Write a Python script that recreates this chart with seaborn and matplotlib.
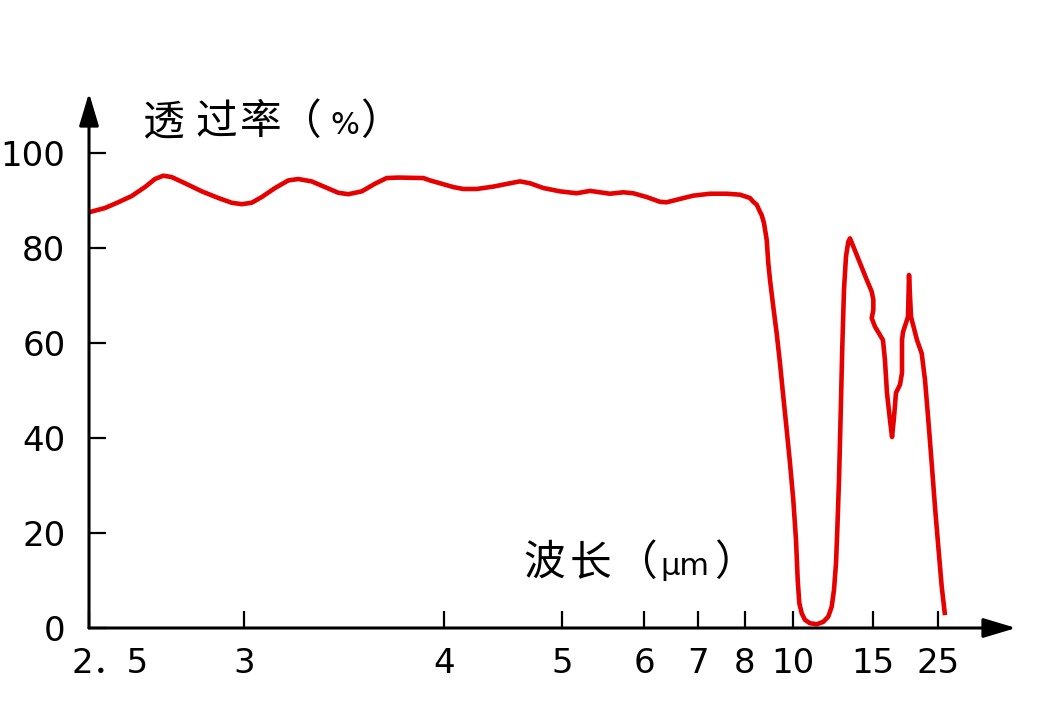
import numpy as np
import pandas as pd
import matplotlib
matplotlib.use("Agg")
import matplotlib.pyplot as plt
import matplotlib.transforms as mtransforms
import seaborn as sns

# ---------------- data ----------------
wavelength_um = [2.500, 2.544, 2.581, 2.620, 2.660, 2.691, 2.717, 2.744, 2.788, 2.845,
                 2.904, 2.953, 2.991, 3.029, 3.068, 3.121, 3.176, 3.218, 3.277, 3.338,
                 3.401, 3.450, 3.518, 3.587, 3.651, 3.717, 3.867, 3.909, 3.974, 4.064,
                 4.135, 4.235, 4.365, 4.504, 4.591, 4.683, 4.810, 4.979, 5.154, 5.302,
                 5.419, 5.540, 5.712, 5.847, 6.043, 6.265, 6.383, 6.631, 6.900, 7.231,
                 7.579, 7.880, 8.170, 8.286, 8.410, 8.533, 8.599, 8.688, 8.795, 8.860,
                 8.930, 9.069, 9.217, 9.366, 9.519, 9.682, 9.846, 10.013, 10.127, 10.200,
                 10.270, 10.377, 10.526, 10.762, 11.096, 11.446, 11.725, 11.923, 12.060, 12.183,
                 12.264, 12.372, 12.481, 12.585, 12.698, 12.834, 12.994, 13.115, 13.357, 13.873,
                 14.432, 14.879, 15.03, 15.03, 14.879, 15.19, 15.98, 16.19, 16.41, 16.75,
                 16.99, 17.23, 17.47, 17.99, 18.26, 18.26, 18.40, 19.12, 19.27, 19.58,
                 20.57, 21.42, 22.06, 22.74, 23.48, 24.25, 25.08, 25.99, 26.93]
transmittance = [87.5, 88.4, 89.6, 90.9, 92.8, 94.5, 95.2, 94.9, 93.6, 91.9,
                 90.5, 89.5, 89.2, 89.5, 90.7, 92.6, 94.2, 94.5, 94.0, 92.8,
                 91.6, 91.3, 91.9, 93.5, 94.7, 94.8, 94.7, 94.2, 93.6, 92.8,
                 92.4, 92.4, 92.9, 93.6, 94.0, 93.6, 92.6, 91.9, 91.5, 92.0,
                 91.7, 91.4, 91.7, 91.5, 90.7, 89.7, 89.6, 90.3, 91.0, 91.4,
                 91.4, 91.2, 90.5, 89.7, 89.1, 87.6, 86.9, 85.2, 81.7, 76.8,
                 73.3, 67.6, 62.0, 55.7, 48.7, 41.7, 34.7, 26.9, 18.5, 10.1,
                 5.2, 3.1, 1.7, 1.0, 0.8, 1.3, 2.4, 4.5, 8.0, 13.6,
                 20.6, 31.2, 45.2, 59.2, 71.2, 78.2, 81.3, 82.0, 80.3, 76.8,
                 73.3, 70.8, 69.1, 66.9, 65.2, 63.4, 60.6, 56.4, 49.5, 43.8,
                 40.2, 44.4, 49.5, 51.2, 53.7, 60.6, 62.3, 65.5, 74.3, 65.5,
                 60.6, 57.8, 52.2, 43.8, 34.7, 25.5, 17.1, 8.7, 2.7]

x_ticks = [2.5, 3, 4, 5, 6, 7, 8, 10, 15, 25]
x_tick_labels = ["2．5", "3", "4", "5", "6", "7", "8", "10", "15", "25"]
y_ticks = [0, 20, 40, 60, 80, 100]
y_tick_labels = ["0", "20", "40", "60", "80", "100"]

# axis titles, split into pieces (CJK text / small latin part)
y_title_pieces = ["透", "过", "率", "（", "%", "）"]
x_title_pieces = ["波", "长", "（", "μm", "）"]

# hand-drawn axis: piecewise linear in wavenumber, anchored on the tick marks
_anchor_nu = np.array([1e4 / t for t in x_ticks] + [0.0])
_anchor_pos = np.array([89, 244, 444, 562, 644, 698, 745, 793, 873, 938, 1035.5])


def fwd(lam):
    lam = np.asarray(lam, dtype=float)
    with np.errstate(divide="ignore", invalid="ignore"):
        nu = np.where(lam > 0, 1e4 / np.where(lam > 0, lam, 1.0), 1e9)
    return np.interp(-nu, -_anchor_nu, _anchor_pos)


def inv(pos):
    pos = np.asarray(pos, dtype=float)
    nu = -np.interp(pos, _anchor_pos, -_anchor_nu)
    nu = np.clip(nu, 1e-3, None)
    return 1e4 / nu


df = pd.DataFrame({"wavelength": wavelength_um, "T": transmittance})

sns.set_style("white")
plt.rcParams["font.family"] = ["DejaVu Sans", "Noto Sans CJK SC"]

W, H = 1043, 704
fig = plt.figure(figsize=(W / 100, H / 100), dpi=100)
ax = fig.add_axes([89 / W, (H - 628) / H, (1016 - 89) / W, (628 - 93) / H])
ax.set_xscale("function", functions=(fwd, inv))

sns.lineplot(data=df, x="wavelength", y="T", sort=False, estimator=None,
             color="#e60000", linewidth=3.3, ax=ax, clip_on=False)
for ln in ax.get_lines():
    ln.set_solid_joinstyle("round")
    ln.set_solid_capstyle("butt")

ax.set_xlim(2.5, float(inv(1016)))
ax.set_ylim(0, 112.6)

for s in ax.spines.values():
    s.set_visible(False)

ax.set_xticks(x_ticks)
ax.set_xticklabels(x_tick_labels)
ax.set_yticks(y_ticks)
ax.set_yticklabels(y_tick_labels)
ax.xaxis.set_minor_locator(matplotlib.ticker.NullLocator())
ax.tick_params(axis="both", direction="in", length=12.5, width=1.6, color="black",
               labelsize=24.5, labelcolor="black")
ax.tick_params(axis="x", pad=13.5, bottom=True)
ax.tick_params(axis="y", pad=17, left=True)
ax.set_xlabel("")
ax.set_ylabel("")
ax.grid(False)

# shift the first x label to the right as in the reference
lbl0 = ax.get_xticklabels()[0]
lbl0.set_transform(lbl0.get_transform() + mtransforms.ScaledTranslation(0.21, 0, fig.dpi_scale_trans))

arrow_kw = dict(arrowstyle="-|>,head_length=1.0,head_width=0.3", color="black",
                lw=2.2, shrinkA=0, shrinkB=0, mutation_scale=20)
ax.annotate("", xy=(1, 0), xytext=(0, 0), xycoords="axes fraction",
            textcoords="axes fraction", arrowprops=arrow_kw, annotation_clip=False)
ax.annotate("", xy=(0, 1), xytext=(0, 0), xycoords="axes fraction",
            textcoords="axes fraction", arrowprops=arrow_kw, annotation_clip=False)

# axis titles (piece-wise so the spacing matches)
cjk = ["Noto Sans CJK SC", "DejaVu Sans"]
latin = ["DejaVu Sans", "Noto Sans CJK SC"]
y_title_x = [142, 195, 240, 279, 330, 360]
y_title_fs = [30, 30, 30, 30, 22, 30]
y_title_fam = [cjk, cjk, cjk, cjk, latin, cjk]
for t, px, fs, fam in zip(y_title_pieces, y_title_x, y_title_fs, y_title_fam):
    fig.text(px / W, 1 - 134 / H, t, fontsize=fs, family=fam, ha="left",
             va="baseline", color="black")

x_title_x = [523, 570, 615, 660, 714]
x_title_fs = [30, 30, 30, 22, 30]
x_title_fam = [cjk, cjk, cjk, latin, cjk]
for t, px, fs, fam in zip(x_title_pieces, x_title_x, x_title_fs, x_title_fam):
    fig.text(px / W, 1 - 575 / H, t, fontsize=fs, family=fam, ha="left",
             va="baseline", color="black")

fig.savefig("out.png", dpi=100, facecolor="white")
